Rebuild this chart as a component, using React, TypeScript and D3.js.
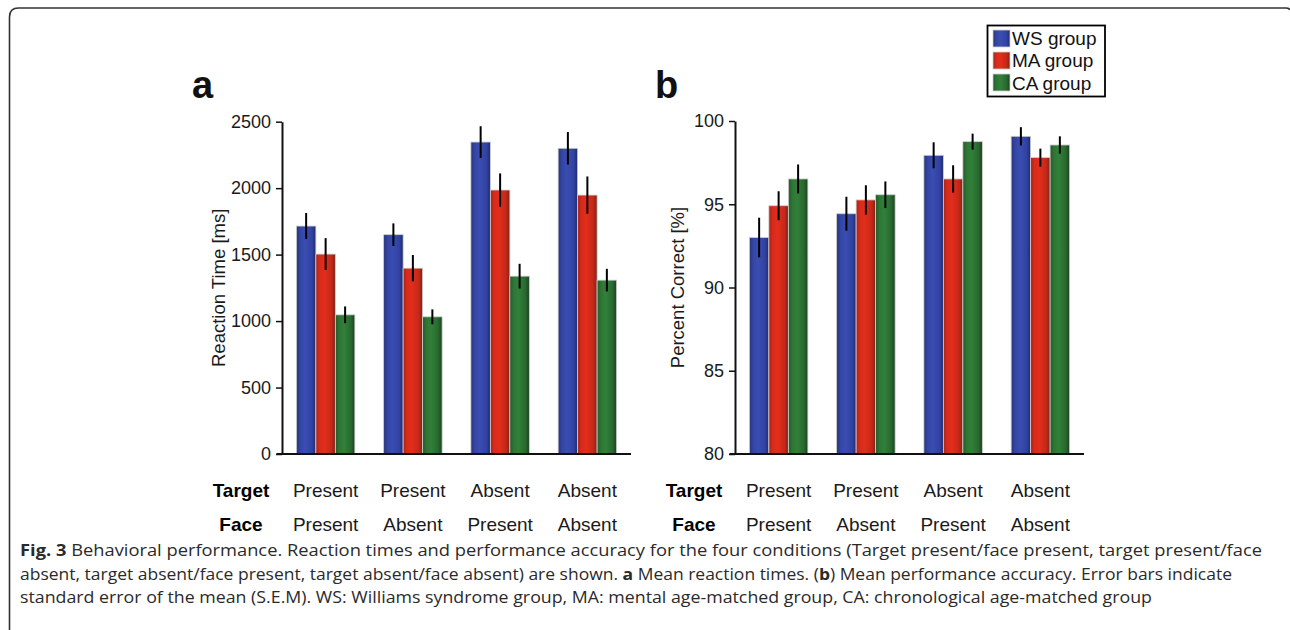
import React, { useEffect, useRef } from "react";
import * as d3 from "d3";

const conditions = ["c1", "c2", "c3", "c4"];
const targetLabels = ["Present", "Present", "Absent", "Absent"];
const faceLabels = ["Present", "Absent", "Present", "Absent"];
const groups = ["WS group", "MA group", "CA group"];

// reaction time [ms], rows = WS, MA, CA
const rtMean = [
  [1715, 1650, 2347, 2300],
  [1504, 1398, 1986, 1948],
  [1047, 1032, 1338, 1308],
];
const rtErr = [
  [98, 85, 119, 122],
  [120, 99, 125, 140],
  [63, 56, 93, 85],
];

// percent correct
const pcMean = [
  [93.0, 94.43, 97.94, 99.08],
  [94.91, 95.26, 96.52, 97.8],
  [96.52, 95.57, 98.76, 98.56],
];
const pcErr = [
  [1.19, 1.02, 0.78, 0.55],
  [0.87, 0.88, 0.82, 0.54],
  [0.87, 0.8, 0.48, 0.52],
];

const rtTicks = [0, 500, 1000, 1500, 2000, 2500];
const pcTicks = [80, 85, 90, 95, 100];

const gradStops = [
  ["#27337a", "#3446a4", "#3a4db2", "#3142a2", "#1f2a6c"],
  ["#a82418", "#d92a1a", "#e22e1c", "#c42818", "#7a2418"],
  ["#24592a", "#2e7636", "#318039", "#29682f", "#1c3f20"],
];

const FONT = "'Liberation Sans', Arial, Helvetica, sans-serif";

export default function App() {
  const ref = useRef(null);

  useEffect(() => {
    const svg = d3.select(ref.current);
    svg.selectAll("*").remove();

    // gradients for the bars
    const defs = svg.append("defs");
    gradStops.forEach((stops, i) => {
      const g = defs
        .append("linearGradient")
        .attr("id", "grad" + i)
        .attr("x1", "0%")
        .attr("x2", "100%")
        .attr("y1", "0%")
        .attr("y2", "0%");
      const offs = [0, 0.2, 0.45, 0.8, 1];
      stops.forEach((c, j) => {
        g.append("stop").attr("offset", offs[j]).attr("stop-color", c);
      });
    });

    // frame
    svg
      .append("path")
      .attr("d", "M9.5,640 L9.5,17 Q9.5,8 18.5,8 L1286,8 Q1289,8 1290,10")
      .attr("fill", "none")
      .attr("stroke", "#333")
      .attr("stroke-width", 1.6);

    function panel(opts) {
      const { x0, x1, y0, y1, domain, ticks, means, errs, letter, ylabel, yLabelX } = opts;
      const g = svg.append("g");

      const xScale = d3
        .scaleBand()
        .domain(conditions)
        .range([x0, x1])
        .paddingInner(0.33)
        .paddingOuter(0.165);
      const sub = d3
        .scaleBand()
        .domain(groups)
        .range([0, xScale.bandwidth()])
        .padding(0);
      const yScale = d3.scaleLinear().domain(domain).range([y0, y1]);

      // bars
      groups.forEach((grp, gi) => {
        g.selectAll(".bar" + gi)
          .data(conditions)
          .join("rect")
          .attr("x", (d) => xScale(d) + sub(grp))
          .attr("y", (d, i) => yScale(means[gi][i]))
          .attr("width", sub.bandwidth())
          .attr("height", (d, i) => y0 - yScale(means[gi][i]))
          .attr("fill", "url(#grad" + gi + ")")
          .attr("stroke", "#cfcfcf")
          .attr("stroke-width", 0.8);
      });

      // error bars
      groups.forEach((grp, gi) => {
        g.selectAll(".err" + gi)
          .data(conditions)
          .join("line")
          .attr("x1", (d) => xScale(d) + sub(grp) + sub.bandwidth() / 2)
          .attr("x2", (d) => xScale(d) + sub(grp) + sub.bandwidth() / 2)
          .attr("y1", (d, i) => yScale(means[gi][i] - errs[gi][i]))
          .attr("y2", (d, i) => yScale(means[gi][i] + errs[gi][i]))
          .attr("stroke", "#000")
          .attr("stroke-width", 2);
      });

      // y axis
      const yAxis = g
        .append("g")
        .attr("transform", `translate(${x0},0)`)
        .call(
          d3
            .axisLeft(yScale)
            .tickValues(ticks)
            .tickFormat(d3.format("d"))
            .tickSize(6)
            .tickSizeOuter(0)
            .tickPadding(5)
        );
      yAxis.select(".domain").attr("stroke-width", 2).attr("stroke", "#111");
      yAxis.selectAll(".tick line").attr("stroke-width", 1.5).attr("stroke", "#111");
      yAxis
        .selectAll(".tick text")
        .attr("font-family", FONT)
        .attr("font-size", 18)
        .attr("fill", "#1a1a1a");

      // x axis baseline
      g.append("line")
        .attr("x1", x0 - 5.5)
        .attr("x2", x1)
        .attr("y1", y0)
        .attr("y2", y0)
        .attr("stroke", "#111")
        .attr("stroke-width", 2);

      // category labels
      const lblX = x0 - 41;
      g.append("text")
        .attr("x", lblX)
        .attr("y", 497)
        .attr("text-anchor", "middle")
        .attr("font-family", FONT)
        .attr("font-weight", "bold")
        .attr("font-size", 19)
        .text("Target");
      g.append("text")
        .attr("x", lblX)
        .attr("y", 531)
        .attr("text-anchor", "middle")
        .attr("font-family", FONT)
        .attr("font-weight", "bold")
        .attr("font-size", 19)
        .text("Face");
      g.selectAll(".tl")
        .data(conditions)
        .join("text")
        .attr("x", (d) => xScale(d) + xScale.bandwidth() / 2)
        .attr("y", 497)
        .attr("text-anchor", "middle")
        .attr("font-family", FONT)
        .attr("font-size", 19)
        .attr("fill", "#1a1a1a")
        .text((d, i) => targetLabels[i]);
      g.selectAll(".fl")
        .data(conditions)
        .join("text")
        .attr("x", (d) => xScale(d) + xScale.bandwidth() / 2)
        .attr("y", 531)
        .attr("text-anchor", "middle")
        .attr("font-family", FONT)
        .attr("font-size", 19)
        .attr("fill", "#1a1a1a")
        .text((d, i) => faceLabels[i]);

      // y label
      g.append("text")
        .attr("transform", `translate(${yLabelX},${(y0 + y1) / 2}) rotate(-90)`)
        .attr("text-anchor", "middle")
        .attr("font-family", FONT)
        .attr("font-size", 18.5)
        .attr("fill", "#1a1a1a")
        .text(ylabel);

      // panel letter
      g.append("text")
        .attr("x", letter.x)
        .attr("y", 98)
        .attr("font-family", FONT)
        .attr("font-weight", "bold")
        .attr("font-size", 38)
        .attr("fill", "#111")
        .text(letter.t);
    }

    panel({
      x0: 282,
      x1: 631,
      y0: 454,
      y1: 121.7,
      domain: [0, 2500],
      ticks: rtTicks,
      means: rtMean,
      errs: rtErr,
      letter: { t: "a", x: 192 },
      ylabel: "Reaction Time [ms]",
      yLabelX: 225,
    });

    panel({
      x0: 735,
      x1: 1084,
      y0: 454,
      y1: 121,
      domain: [80, 100],
      ticks: pcTicks,
      means: pcMean,
      errs: pcErr,
      letter: { t: "b", x: 655 },
      ylabel: "Percent Correct [%]",
      yLabelX: 684,
    });

    // legend
    const leg = svg.append("g");
    leg.append("rect")
      .attr("x", 987.5)
      .attr("y", 25.5)
      .attr("width", 117.5)
      .attr("height", 71)
      .attr("fill", "#fff")
      .attr("stroke", "#000")
      .attr("stroke-width", 1.8);
    groups.forEach((grp, i) => {
      leg.append("rect")
        .attr("x", 993)
        .attr("y", 30 + i * 22)
        .attr("width", 17)
        .attr("height", 17)
        .attr("fill", "url(#grad" + i + ")")
        .attr("stroke", "#cfcfcf")
        .attr("stroke-width", 0.8);
      leg.append("text")
        .attr("x", 1012)
        .attr("y", 45 + i * 22.3)
        .attr("font-family", FONT)
        .attr("font-size", 19)
        .attr("fill", "#111")
        .text(grp);
    });

    // caption
    const CAP = "'Open Sans', 'Noto Sans', sans-serif";
    const lines = [
      { len: 1242, y: 556, parts: [["Fig. 3", true], [" Behavioral performance. Reaction times and performance accuracy for the four conditions (Target present/face present, target present/face", false]] },
      { len: 1212, y: 580, parts: [["absent, target absent/face present, target absent/face absent) are shown. ", false], ["a", true], [" Mean reaction times. (", false], ["b", true], [") Mean performance accuracy. Error bars indicate", false]] },
      { len: 1132, y: 603, parts: [["standard error of the mean (S.E.M). WS: Williams syndrome group, MA: mental age-matched group, CA: chronological age-matched group", false]] },
    ];
    lines.forEach((ln) => {
      const t = svg
        .append("text")
        .attr("x", 20)
        .attr("y", ln.y)
        .attr("font-family", CAP)
        .attr("font-size", 15.5)
        .attr("fill", "#2a2a2a")
        .attr("textLength", ln.len)
        .attr("lengthAdjust", "spacingAndGlyphs")
        .style("white-space", "pre");
      ln.parts.forEach((p) => {
        t.append("tspan")
          .attr("font-weight", p[1] ? "bold" : "normal")
          .text(p[0]);
      });
    });
  }, []);

  return (
    <svg
      ref={ref}
      width={1290}
      height={630}
      style={{ position: "absolute", left: 0, top: 0, background: "#fff" }}
    />
  );
}
